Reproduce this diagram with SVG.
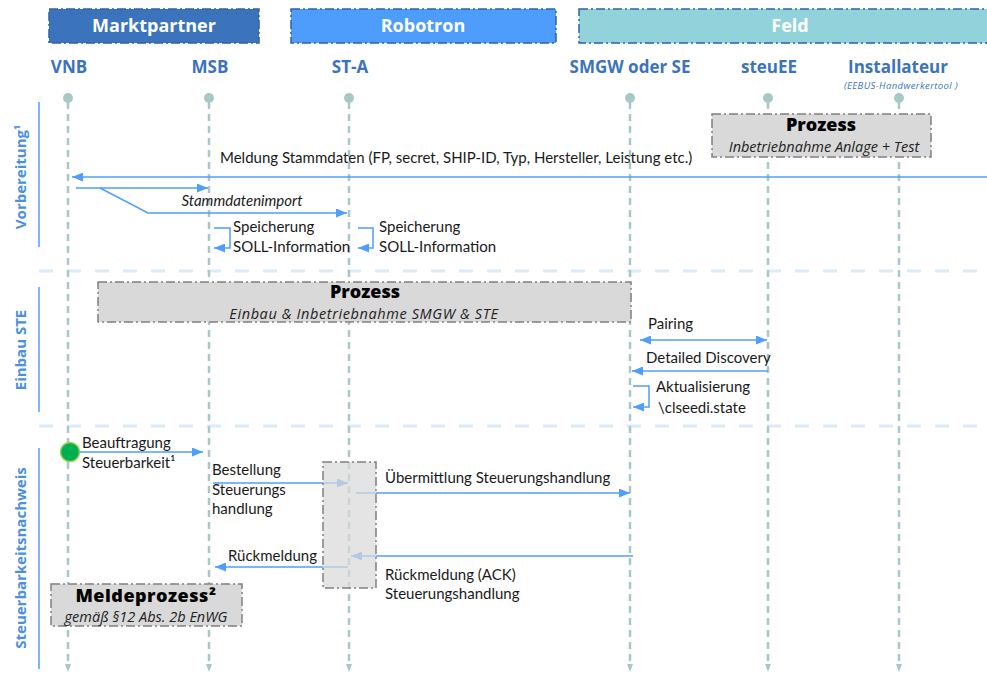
<svg xmlns="http://www.w3.org/2000/svg" width="987" height="674" viewBox="0 0 987 674">
<style>
.hdr{font-family:"Open Sans",Lato,sans-serif;font-weight:bold;font-size:18px;fill:#fff;text-anchor:middle}
.lane{font-family:"Open Sans",Lato,sans-serif;font-weight:bold;font-size:17px;fill:#3B73BD;text-anchor:middle}
.sec{font-family:"Open Sans",Lato,sans-serif;font-weight:bold;font-size:15px;fill:#4A8FE0;text-anchor:middle}
.msg{font-family:Lato,"Open Sans",sans-serif;font-size:15px;fill:#1a1a1a}
.it{font-style:italic}
.ptitle{font-family:"Open Sans",Lato,sans-serif;font-weight:800;font-size:18px;fill:#000;text-anchor:middle}
.psub{font-family:"Open Sans",Lato,sans-serif;font-style:italic;font-size:14.5px;fill:#222;text-anchor:middle}
.life{stroke:#A8C8C8;stroke-width:2.5;stroke-dasharray:7 5;fill:none}
.sep{stroke:#DCEAFC;stroke-width:3;stroke-dasharray:14 14;fill:none}
.secl{stroke:#4F9EFF;stroke-width:1.5}
.arr{stroke:#4F9EFF;stroke-width:1.5;fill:none;marker-end:url(#ah)}
.proc{fill:#D9D9D9;stroke:#808080;stroke-width:1.5;stroke-dasharray:9 3 2 3}
.hbox{stroke:#2F62A8;stroke-width:1.5;stroke-dasharray:9 3 2 3}
</style>
<defs>
<marker id="ah" viewBox="0 0 11 9" refX="11" refY="4.5" markerWidth="11" markerHeight="9" markerUnits="userSpaceOnUse" orient="auto-start-reverse">
<path d="M0,0 L11,4.5 L0,9 z" fill="#4F9EFF"/>
</marker>
<marker id="lh" viewBox="0 0 8 6" refX="4" refY="3" markerWidth="8" markerHeight="6" markerUnits="userSpaceOnUse" orient="auto">
<path d="M0,0 L8,3 L0,6 z" fill="#A8C8C8"/>
</marker>
</defs>
<rect width="987" height="674" fill="#fff"/>

<!-- header groups -->
<g id="grp-marktpartner">
<rect class="hbox" x="49" y="9" width="210" height="34" fill="#3B73BD"/>
<text class="hdr" x="154" y="32">Marktpartner</text>
</g>
<g id="grp-robotron">
<rect class="hbox" x="291" y="9" width="265" height="34" fill="#4E9CFC"/>
<text class="hdr" x="423" y="32">Robotron</text>
</g>
<g id="grp-feld">
<rect class="hbox" x="579" y="9" width="420" height="34" fill="#92D2DA"/>
<text class="hdr" x="790" y="32">Feld</text>
</g>

<!-- separators -->
<g id="separators">
<line class="sep" x1="39" y1="271" x2="987" y2="271"/>
<line class="sep" x1="39" y1="426" x2="987" y2="426"/>
</g>

<!-- section labels -->
<g id="sec-vorbereitung">
<line class="secl" x1="39" y1="102" x2="39" y2="247"/>
<text class="sec" transform="translate(26 177) rotate(-90)">Vorbereitung<tspan font-size="9" dy="-6">1</tspan></text>
</g>
<g id="sec-einbau">
<line class="secl" x1="39" y1="287" x2="39" y2="412"/>
<text class="sec" transform="translate(26 350) rotate(-90)">Einbau STE</text>
</g>
<g id="sec-steuerbarkeit">
<line class="secl" x1="39" y1="448" x2="39" y2="669"/>
<text class="sec" transform="translate(26 558) rotate(-90)">Steuerbarkeitsnachweis</text>
</g>

<!-- lanes -->
<g id="lane-vnb">
<text class="lane" x="69" y="73">VNB</text>
<line class="life" x1="68" y1="102" x2="68" y2="668" marker-end="url(#lh)"/>
<circle cx="68" cy="98" r="5" fill="#A8C8C8"/>
</g>
<g id="lane-msb">
<text class="lane" x="210" y="73">MSB</text>
<line class="life" x1="209" y1="102" x2="209" y2="668" marker-end="url(#lh)"/>
<circle cx="209" cy="98" r="5" fill="#A8C8C8"/>
</g>
<g id="lane-sta">
<text class="lane" x="350" y="73">ST-A</text>
<line class="life" x1="349" y1="102" x2="349" y2="668" marker-end="url(#lh)"/>
<circle cx="349" cy="98" r="5" fill="#A8C8C8"/>
</g>
<g id="lane-smgw">
<text class="lane" x="630" y="73">SMGW oder SE</text>
<line class="life" x1="630" y1="102" x2="630" y2="668" marker-end="url(#lh)"/>
<circle cx="630" cy="98" r="5" fill="#A8C8C8"/>
</g>
<g id="lane-steuee">
<text class="lane" x="769" y="73">steuEE</text>
<line class="life" x1="768" y1="102" x2="768" y2="668" marker-end="url(#lh)"/>
<circle cx="768" cy="98" r="5" fill="#A8C8C8"/>
</g>
<g id="lane-installateur">
<text class="lane" x="898" y="73">Installateur</text>
<text x="901" y="89" font-family="'Open Sans',Lato,sans-serif" font-style="italic" font-size="9.5" fill="#3B73BD" text-anchor="middle" letter-spacing="0.4">(EEBUS-Handwerkertool )</text>
<line class="life" x1="899" y1="102" x2="899" y2="668" marker-end="url(#lh)"/>
<circle cx="899" cy="98" r="5" fill="#A8C8C8"/>
</g>

<!-- process boxes -->
<g id="proc-inbetriebnahme">
<rect class="proc" x="712" y="114" width="219" height="43"/>
<text class="ptitle" x="821" y="131">Prozess</text>
<text class="psub" x="824" y="152">Inbetriebnahme Anlage + Test</text>
</g>
<g id="proc-einbau">
<rect class="proc" x="98" y="282" width="533" height="40"/>
<text class="ptitle" x="365" y="298">Prozess</text>
<text class="psub" x="364" y="319" letter-spacing="0.6">Einbau &amp; Inbetriebnahme SMGW &amp; STE</text>
</g>

<!-- connectors -->
<g id="connectors">
<line class="arr" x1="987" y1="177" x2="72" y2="177"/>
<line class="arr" x1="76" y1="188" x2="208" y2="188"/>
<polyline class="arr" points="100,188 148,213 347,213"/>
<polyline class="arr" points="214,228 230,228 230,248 214,248"/>
<polyline class="arr" points="358,228 373,228 373,248 358,248"/>
<line class="arr" x1="640" y1="340" x2="767" y2="340" marker-start="url(#ah)"/>
<line class="arr" x1="768" y1="371" x2="632" y2="371"/>
<polyline class="arr" points="633,386 649,386 649,407 633,407"/>
<line class="arr" x1="78" y1="452" x2="203" y2="452"/>
<line class="arr" x1="213" y1="483" x2="348" y2="483"/>
<line class="arr" x1="356" y1="493" x2="630" y2="493"/>
<line class="arr" x1="633" y1="556" x2="351" y2="556"/>
<line class="arr" x1="348" y1="567" x2="215" y2="567"/>
</g>

<!-- message labels -->
<g id="labels">
<text class="msg" x="220" y="163">Meldung Stammdaten (FP, secret, SHIP-ID, Typ, Hersteller, Leistung etc.)</text>
<text class="msg it" x="242" y="206" text-anchor="middle">Stammdatenimport</text>
<text class="msg" x="233" y="232">Speicherung</text>
<text class="msg" x="233" y="252">SOLL-Information</text>
<text class="msg" x="379" y="232">Speicherung</text>
<text class="msg" x="379" y="252">SOLL-Information</text>
<text class="msg" x="648" y="329">Pairing</text>
<text class="msg" x="646" y="363">Detailed Discovery</text>
<text class="msg" x="656" y="392">Aktualisierung</text>
<text class="msg" x="658" y="413">\clseedi.state</text>
<text class="msg" x="82" y="448">Beauftragung</text>
<text class="msg" x="82" y="468">Steuerbarkeit¹</text>
<text class="msg" x="212" y="475">Bestellung</text>
<text class="msg" x="212" y="495">Steuerungs</text>
<text class="msg" x="212" y="514">handlung</text>
<text class="msg" x="385" y="483">Übermittlung Steuerungshandlung</text>
<text class="msg" x="228" y="561">Rückmeldung</text>
<text class="msg" x="385" y="580">Rückmeldung (ACK)</text>
<text class="msg" x="385" y="599">Steuerungshandlung</text>
</g>

<!-- start point -->
<g id="start-vnb">
<circle cx="70" cy="452" r="9.5" fill="#00B050" stroke="#92D050" stroke-width="1.5"/>
</g>

<!-- activation ST-A -->
<g id="act-sta">
<rect x="323" y="462" width="53" height="126" fill="#D9D9D9" fill-opacity="0.72" stroke="#808080" stroke-width="1.5" stroke-dasharray="9 3 2 3"/>
</g>

<!-- Meldeprozess -->
<g id="proc-melde">
<rect class="proc" x="51" y="584" width="191" height="42"/>
<text class="ptitle" x="146" y="602" letter-spacing="0.5">Meldeprozess²</text>
<text class="psub" x="146" y="622">gemäß §12 Abs. 2b EnWG</text>
</g>
</svg>
